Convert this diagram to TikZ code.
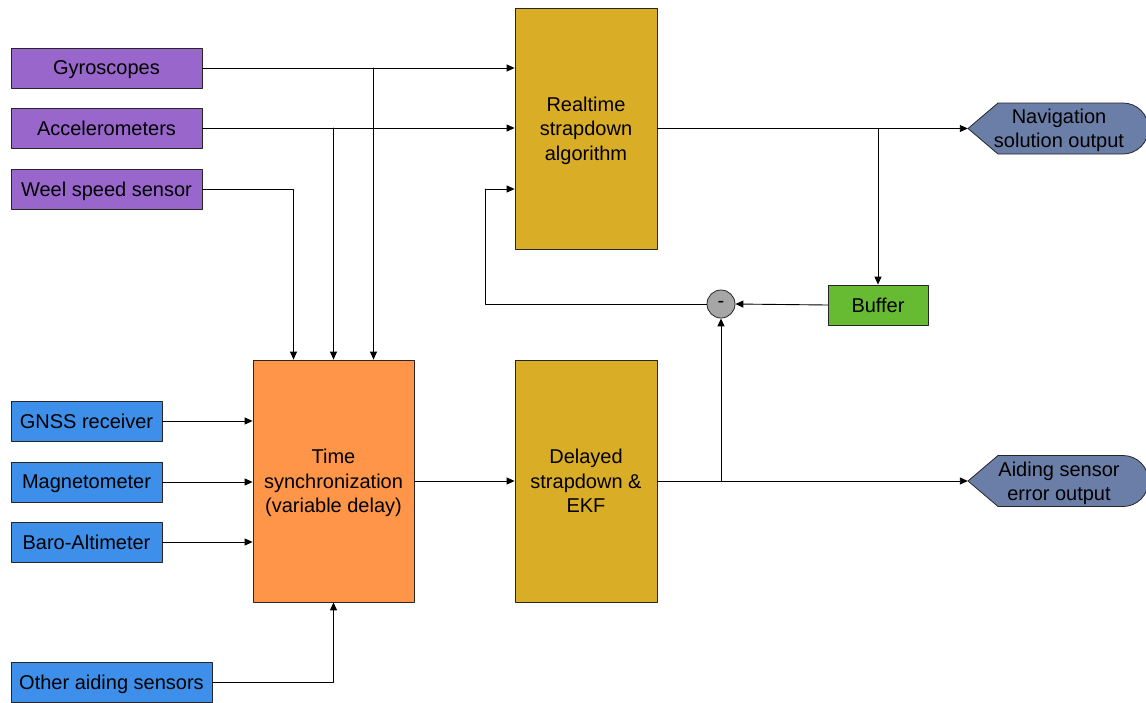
\documentclass[tikz,border=0pt]{standalone}
\usepackage{fontspec}
\setmainfont{Liberation Sans}
\usetikzlibrary{arrows.meta}
\definecolor{sensorpurple}{RGB}{153,102,204}
\definecolor{aidblue}{RGB}{61,143,234}
\definecolor{syncorange}{RGB}{255,149,72}
\definecolor{algogold}{RGB}{218,173,38}
\definecolor{bufgreen}{RGB}{102,187,51}
\definecolor{outslate}{RGB}{107,126,168}
\definecolor{minusgray}{RGB}{166,166,166}
\tikzset{
  blockbox/.style={draw=black!85, line width=0.8pt, inner sep=0pt, align=center, text depth=-1pt},
  imubox/.style={blockbox, fill=sensorpurple, minimum width=191, minimum height=40},
  aidbox/.style={blockbox, fill=aidblue, minimum width=151, minimum height=40},
  bigbox/.style={blockbox, minimum width=142, minimum height=241},
  outshape/.style={draw=black!85, line width=0.8pt, fill=outslate},
  outtext/.style={align=center, minimum width=182, inner sep=0pt, text depth=-1pt},
  link/.style={line width=0.9pt, -{Triangle[length=8pt,width=7pt]}},
  wire/.style={line width=0.9pt},
}
\begin{document}
\begin{tikzpicture}[x=1pt, y=-1pt, line cap=round, line join=round,
  font=\fontsize{20}{24.3}\selectfont]
  \useasboundingbox (0,0) rectangle (1146,702);
  % --- 慣性センサ(紫)
  \node[imubox] (gyro) at (106.5,68) {Gyroscopes};
  \node[imubox] (accel) at (106.5,128) {Accelerometers};
  \node[imubox] (wheel) at (106.5,189) {Weel speed sensor};
  % --- 補助センサ(青)
  \node[aidbox] (gnss) at (86.5,421) {GNSS receiver};
  \node[aidbox] (magneto) at (86.5,482) {Magnetometer};
  \node[aidbox] (baro) at (86.5,542) {Baro-Altimeter};
  \node[aidbox, minimum width=201] (other) at (111.5,682) {Other aiding sensors};
  % --- 処理ブロック
  \node[bigbox, fill=algogold] (rt) at (586,128.5) {Realtime\\strapdown\\algorithm};
  \node[bigbox, fill=syncorange, minimum width=161, minimum height=242] (sync) at (333.5,481) {Time\\synchronization\\(variable delay)};
  \node[bigbox, fill=algogold, minimum height=242] (dekf) at (586,481) {Delayed\\strapdown \&\\EKF};
  \node[blockbox, fill=bufgreen, minimum width=100, minimum height=40] (buffer) at (878,305) {Buffer};
  \node[circle, draw=black!85, line width=0.8pt, fill=minusgray, minimum size=28, inner sep=0pt] (minus) at (721,304) {-};
  % --- 出力(左が尖り,右が丸い形)
  \draw[outshape] (968,128.5) -- ++(30,-25.5) -- ++(125,0) arc[start angle=-90, end angle=90, radius=25.5] -- ++(-125,0) -- cycle;
  \draw[outshape] (968,481) -- ++(30,-25.5) -- ++(125,0) arc[start angle=-90, end angle=90, radius=25.5] -- ++(-125,0) -- cycle;
  \node[outtext] (navout) at (1059,128.5) {Navigation\\solution output};
  \node[outtext] (aidout) at (1059,481) {Aiding sensor\\error output};
  % 帰還線の折れ点
  \coordinate (fb) at (485,189);
  % --- 上段の矢印
  \draw[link] (gyro.east) -- (rt.west |- gyro.east);
  \draw[link] (accel.east) -- (rt.west |- accel.east);
  \draw[link] ([xshift=40]sync.north |- gyro.east) -- ([xshift=40]sync.north);
  \draw[link] (sync.north |- accel.east) -- (sync.north);
  \draw[link] (wheel.east) -| ([xshift=-40]sync.north);
  \draw[link] (rt.east |- navout.west) -- (navout.west);
  \draw[link] (buffer.north |- navout.west) -- (buffer.north);
  \draw[link] (buffer.west) -- (minus.east);
  \draw[wire] (minus.west) -| (fb);
  \draw[link] (fb) -- (rt.west |- fb);
  % --- 下段の矢印
  \draw[link] (gnss.east) -- (sync.west |- gnss.east);
  \draw[link] (magneto.east) -- (sync.west |- magneto.east);
  \draw[link] (baro.east) -- (sync.west |- baro.east);
  \draw[link] (other.east) -| (sync.south);
  \draw[link] (sync.east) -- (dekf.west);
  \draw[link] (dekf.east) -- (aidout.west);
  \draw[link] (minus.south |- dekf.east) -- (minus.south);
\end{tikzpicture}
\end{document}
